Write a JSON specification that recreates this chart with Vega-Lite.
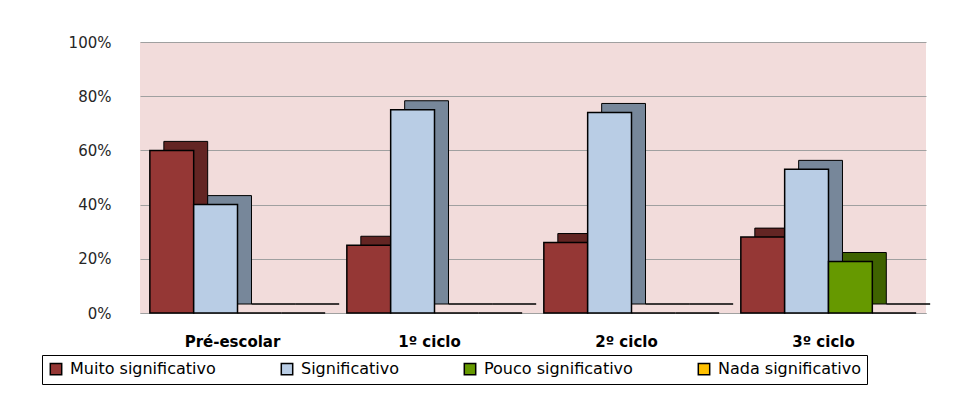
{
  "$schema": "https://vega.github.io/schema/vega-lite/v6.json",
  "width": 786,
  "height": 271,
  "autosize": {"type": "none"},
  "padding": {"left": 140, "top": 42, "right": 52, "bottom": 90},
  "background": "white",
  "config": {
    "view": {"fill": "#F2DCDB", "stroke": null},
    "font": "DejaVu Sans"
  },
  "data": {
    "values": [
      {"nivel": "Pré-escolar", "resposta": "Muito significativo", "valor": 0.60},
      {"nivel": "Pré-escolar", "resposta": "Significativo", "valor": 0.40},
      {"nivel": "Pré-escolar", "resposta": "Pouco significativo", "valor": 0},
      {"nivel": "Pré-escolar", "resposta": "Nada significativo", "valor": 0},
      {"nivel": "1º ciclo", "resposta": "Muito significativo", "valor": 0.25},
      {"nivel": "1º ciclo", "resposta": "Significativo", "valor": 0.75},
      {"nivel": "1º ciclo", "resposta": "Pouco significativo", "valor": 0},
      {"nivel": "1º ciclo", "resposta": "Nada significativo", "valor": 0},
      {"nivel": "2º ciclo", "resposta": "Muito significativo", "valor": 0.26},
      {"nivel": "2º ciclo", "resposta": "Significativo", "valor": 0.74},
      {"nivel": "2º ciclo", "resposta": "Pouco significativo", "valor": 0},
      {"nivel": "2º ciclo", "resposta": "Nada significativo", "valor": 0},
      {"nivel": "3º ciclo", "resposta": "Muito significativo", "valor": 0.28},
      {"nivel": "3º ciclo", "resposta": "Significativo", "valor": 0.53},
      {"nivel": "3º ciclo", "resposta": "Pouco significativo", "valor": 0.19},
      {"nivel": "3º ciclo", "resposta": "Nada significativo", "valor": 0}
    ]
  },
  "encoding": {
    "x": {
      "field": "nivel",
      "type": "nominal",
      "sort": ["Pré-escolar", "1º ciclo", "2º ciclo", "3º ciclo"],
      "scale": {"paddingInner": 0.11, "paddingOuter": 0.05},
      "axis": {
        "title": null,
        "labelAngle": 0,
        "labelFont": "DejaVu Sans",
        "labelFontWeight": "bold",
        "labelFontSize": 15,
        "labelColor": "black",
        "labelPadding": 21,
        "ticks": false,
        "domainColor": "#A0A0A0",
        "labelOffset": -5
      }
    },
    "y": {
      "field": "valor",
      "type": "quantitative",
      "scale": {"domain": [0, 1]},
      "axis": {
        "title": null,
        "format": ".0%",
        "values": [0, 0.2, 0.4, 0.6, 0.8, 1],
        "ticks": false,
        "domain": false,
        "labelPadding": 29,
        "labelFont": "DejaVu Sans",
        "labelFontSize": 15,
        "labelColor": "#262626",
        "gridColor": "#A0A0A0",
        "gridWidth": 1.2
      }
    }
  },
  "layer": [
    {
      "mark": {"type": "bar", "yOffset": -9, "stroke": "black", "strokeWidth": 1},
      "encoding": {
        "xOffset": {
          "field": "resposta",
          "type": "nominal",
          "sort": ["Muito significativo", "Significativo", "Pouco significativo", "Nada significativo"],
          "scale": {"range": [14, 189.3]}
        },
        "color": {
          "field": "resposta",
          "type": "nominal",
          "sort": ["Muito significativo", "Significativo", "Pouco significativo", "Nada significativo"],
          "scale": {"range": ["#632523", "#77879A", "#3F6300", "#C59700"]},
          "legend": null
        }
      }
    },
    {
      "mark": {"type": "bar", "stroke": "black", "strokeWidth": 1.5},
      "encoding": {
        "xOffset": {
          "field": "resposta",
          "type": "nominal",
          "sort": ["Muito significativo", "Significativo", "Pouco significativo", "Nada significativo"]
        },
        "color": {
          "field": "resposta",
          "type": "nominal",
          "sort": ["Muito significativo", "Significativo", "Pouco significativo", "Nada significativo"],
          "scale": {"range": ["#953735", "#B9CDE5", "#669900", "#FFC000"]},
          "legend": {
            "title": null,
            "orient": "none",
            "legendX": -98,
            "legendY": 313,
            "direction": "horizontal",
            "gridAlign": "each",
            "strokeColor": "black",
            "padding": 6,
            "fillColor": "white",
            "symbolType": "square",
            "symbolSize": 130,
            "symbolStrokeColor": "black",
            "symbolStrokeWidth": 1.5,
            "symbolOpacity": 1,
            "labelFont": "DejaVu Sans",
            "labelFontSize": 16,
            "labelColor": "black",
            "columnPadding": 62,
            "labelOffset": 6
          }
        }
      }
    }
  ],
  "resolve": {"scale": {"color": "independent", "xOffset": "independent"}}
}
